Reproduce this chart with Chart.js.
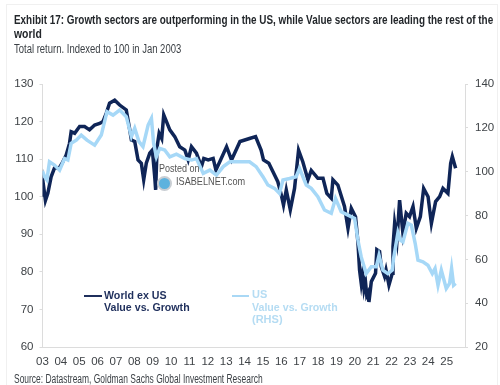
<!DOCTYPE html>
<html>
<head>
<meta charset="utf-8">
<script src="https://cdn.jsdelivr.net/npm/chart.js@4"></script>
<style>
  html, body { margin: 0; padding: 0; background: #fff; }
  #wrap { position: relative; width: 500px; height: 385px; overflow: hidden; font-family: "Liberation Sans", Arial, sans-serif; }
  #wrap canvas { position: absolute; left: 0; top: 0; }
  .txt { position: absolute; white-space: nowrap; transform-origin: left top; }
  .head { color: #3a3f44; }
  #frame { position: absolute; left: 6px; top: 4px; width: 490px; height: 390px; border: 1px solid #f0f0f0; }
</style>
</head>
<body>
<div id="wrap">
  <div id="frame"></div>
  <canvas id="chartCanvas" width="500" height="385"></canvas>
  <div class="txt head fit" data-w="479" style="left:14px;top:12px;font-size:13px;font-weight:bold;color:#23272b">Exhibit 17: Growth sectors are outperforming in the US, while Value sectors are leading the rest of the</div>
  <div class="txt head fit" data-w="28" style="left:14px;top:26px;font-size:13px;font-weight:bold;color:#23272b">world</div>
  <div class="txt head fit" data-w="167" style="left:14px;top:42px;font-size:12.5px">Total return. Indexed to 100 in Jan 2003</div>
  <div class="txt head fit" data-w="249" style="left:14px;top:372px;font-size:12px">Source: Datastream, Goldman Sachs Global Investment Research</div>

  <div class="txt" style="left:84px;top:295px;width:18px;height:2px;background:#1f2f5c"></div>
  <div class="txt fit" data-w="63" style="left:104px;top:289px;font-size:11px;font-weight:bold;color:#1f2f5c">World ex US</div>
  <div class="txt fit" data-w="86" style="left:104px;top:301px;font-size:11px;font-weight:bold;color:#1f2f5c">Value vs. Growth</div>
  <div class="txt" style="left:232px;top:295px;width:17px;height:2px;background:#a9d8f5"></div>
  <div class="txt" style="left:252px;top:288px;font-size:11px;font-weight:bold;color:#b5dcf3">US</div>
  <div class="txt fit" data-w="86" style="left:252px;top:301px;font-size:11px;font-weight:bold;color:#b5dcf3">Value vs. Growth</div>
  <div class="txt" style="left:252px;top:313px;font-size:11px;font-weight:bold;color:#b5dcf3">(RHS)</div>

  <div class="txt fit" data-w="41" style="left:159px;top:162px;font-size:11px;color:#555">Posted on</div>
  <div class="txt fit" data-w="69" style="left:176px;top:175px;font-size:11px;color:#555">ISABELNET.com</div>
  <div class="txt" style="left:157px;top:176px;width:11px;height:11px;border-radius:50%;background:#5db2de;border:2px solid #c9ced3"></div>
</div>
<script>
// World ex US value vs growth (left axis)
const worldDates = [2003.0,2003.05,2003.16,2003.29,2003.47,2003.65,2003.93,2004.11,2004.29,2004.47,2004.56,2004.75,2005.02,2005.29,2005.56,2005.84,2006.11,2006.29,2006.47,2006.65,2006.93,2007.2,2007.56,2007.75,2007.84,2008.02,2008.2,2008.38,2008.51,2008.65,2008.84,2008.98,2009.11,2009.16,2009.24,2009.35,2009.49,2009.6,2009.75,2009.93,2010.2,2010.47,2010.75,2010.93,2011.11,2011.38,2011.65,2011.78,2012.02,2012.29,2012.44,2012.65,2013.02,2013.29,2013.75,2014.27,2014.6,2014.9,2015.03,2015.32,2015.54,2015.81,2016.0,2016.12,2016.27,2016.49,2016.72,2016.94,2017.17,2017.45,2017.63,2017.99,2018.27,2018.48,2018.72,2018.81,2019.08,2019.44,2019.63,2019.81,2020.04,2020.17,2020.26,2020.35,2020.42,2020.5,2020.58,2020.65,2020.72,2020.77,2020.82,2020.9,2021.13,2021.2,2021.35,2021.44,2021.62,2021.7,2021.86,2021.95,2022.04,2022.08,2022.17,2022.3,2022.44,2022.62,2022.8,2022.98,2023.17,2023.35,2023.57,2023.75,2023.99,2024.17,2024.4,2024.62,2024.8,2025.07,2025.22,2025.31,2025.49];
const worldValues = [100,103.1,99,100.9,105.3,107.6,107.8,109.3,111.1,114.2,117.3,116.9,118.7,118.7,117.8,119.1,119.5,120,122.2,124.9,125.7,124.4,123.1,117.8,115.1,114.7,109.8,108.9,104.5,108.9,111.6,112.4,105.3,101.8,113.3,116.9,115.5,121.8,120,117.8,116,113.3,112.4,109.8,113.3,111.6,108,110.2,109.8,110.2,107.1,109.3,113.3,109.8,114.7,115.5,116,112.4,109.8,108.9,106.7,104,100.5,97.8,101.8,96.5,102.2,112.4,109.3,104.5,107,104.9,104.9,100.9,99.6,104.5,103.1,97.4,91.6,96.9,94.7,88,80.5,77,79.5,75.5,77.5,73.8,74.5,72,74,77.4,79.6,85.9,85.4,81.4,78.8,80.5,76.5,78,79.6,86.7,92.9,88.5,99.1,90.3,95.6,94.7,97.4,91.6,94.7,102.2,100,92.9,98.7,100,102.2,100.9,108.9,110.7,107.6];

// US value vs growth (right axis)
const usDates = [2003.0,2003.11,2003.24,2003.38,2003.65,2003.93,2004.2,2004.38,2004.56,2004.84,2005.11,2005.42,2005.84,2006.2,2006.51,2006.84,2007.2,2007.56,2007.84,2008.02,2008.25,2008.47,2008.75,2008.93,2009.05,2009.2,2009.38,2009.65,2009.93,2010.29,2010.75,2011.11,2011.38,2011.75,2012.11,2012.47,2012.84,2013.2,2013.65,2014.27,2014.63,2015.0,2015.27,2015.63,2015.9,2016.09,2016.45,2016.81,2016.99,2017.36,2017.63,2017.99,2018.35,2018.72,2018.95,2019.26,2019.63,2019.99,2020.17,2020.35,2020.62,2020.9,2021.17,2021.32,2021.53,2021.8,2022.04,2022.11,2022.35,2022.48,2022.62,2022.89,2023.08,2023.29,2023.44,2023.71,2023.98,2024.22,2024.37,2024.53,2024.71,2024.98,2025.16,2025.27,2025.38,2025.49];
const usValues = [100.3,97.7,96.2,104.5,103,100.7,106,105.3,112.9,114.4,116.7,114.4,112.1,116.7,127.4,125.8,128.1,125.1,116,119.8,113.7,111.4,121.3,124.3,112.9,106.8,110.6,109.9,106.8,108,106,105.3,106,99.2,100.7,98.4,102.3,104.5,104.5,104.5,102.3,97.7,93.9,92.4,90.1,96.2,96.9,97.7,101.5,93.9,92.4,88.6,82.5,81,87.8,81.7,80.2,78.7,68.8,61.1,53.5,56.6,56.6,61.9,55.1,53.5,55.1,60.4,72.2,68.8,68,76.4,75.6,67.2,59.6,58.9,57.3,53.5,55.8,48.2,55.1,46.7,49,55.8,48.2,49];

const tickLabels = ['03','04','05','06','07','08','09','10','11','12','13','14','15','16','17','18','19','20','21','22','23','24','25'];
const axisColor = '#dcdcdc';
const labelColor = '#3f4347';
const tickFont = { family: 'Liberation Sans', size: 11.5 };
const toPoints = (dates, values) => dates.map((d, i) => ({ x: d, y: values[i] }));

// squeeze the wide fallback font to the widths in the reference
document.querySelectorAll('.fit').forEach((el) => {
  el.style.transform = 'scaleX(' + (el.dataset.w / el.offsetWidth) + ')';
});

new Chart(document.getElementById('chartCanvas').getContext('2d'), {
  type: 'line',
  data: {
    datasets: [
      { label: 'World ex US', data: toPoints(worldDates, worldValues), yAxisID: 'y', borderColor: '#0f2557', borderWidth: 3.5, pointRadius: 0, tension: 0, order: 2 },
      { label: 'US', data: toPoints(usDates, usValues), yAxisID: 'y2', borderColor: '#a6d8f7', borderWidth: 3.5, pointRadius: 0, tension: 0, order: 1 }
    ]
  },
  options: {
    responsive: false,
    animation: false,
    layout: { padding: { top: 84, left: 0, right: 0, bottom: 0 } },
    plugins: { legend: { display: false }, title: { display: false }, tooltip: { enabled: false } },
    scales: {
      x: {
        type: 'linear',
        min: 2003,
        max: 2026,
        afterFit: (scale) => { scale.height = 38; },
        afterBuildTicks: (scale) => { scale.ticks = tickLabels.map((_, i) => ({ value: 2003 + i })); },
        ticks: {
          autoSkip: false,
          maxRotation: 0,
          padding: 8,
          color: labelColor,
          font: tickFont,
          callback: (value) => tickLabels[Math.round(value) - 2003]
        },
        grid: { drawOnChartArea: false, drawTicks: false },
        border: { color: axisColor, width: 1 }
      },
      y: {
        position: 'left',
        min: 60,
        max: 130,
        afterFit: (scale) => { scale.width = 42.5; },
        ticks: { stepSize: 10, padding: 6, color: labelColor, font: tickFont },
        grid: { drawOnChartArea: false, tickLength: 3, color: axisColor },
        border: { color: axisColor, width: 1 }
      },
      y2: {
        position: 'right',
        min: 20,
        max: 140,
        afterFit: (scale) => { scale.width = 35; },
        ticks: { stepSize: 20, padding: 7, color: labelColor, font: tickFont },
        grid: { drawOnChartArea: false, tickLength: 3, color: axisColor },
        border: { color: axisColor, width: 1 }
      }
    }
  }
});
</script>
</body>
</html>
